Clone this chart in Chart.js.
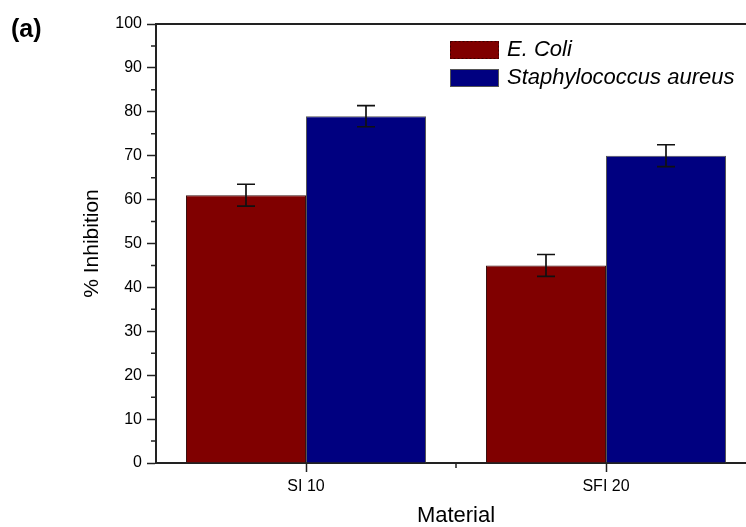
<!DOCTYPE html>
<html>
<head>
<meta charset="utf-8">
<script src="https://cdn.jsdelivr.net/npm/chart.js@4/dist/chart.umd.min.js"></script>
<style>
  html, body { margin: 0; padding: 0; background: #fff; overflow: hidden; }
  #wrap { width: 760px; height: 527px; }
</style>
</head>
<body>
<div id="wrap"><canvas id="myChart" width="760" height="527"></canvas></div>
<script>
// data
const materials = ['SI 10', 'SFI 20'];
const ecoli = [61, 45];
const ecoliErr = [2.5, 2.5];
const staph = [79, 70];
const staphErr = [2.4, 2.5];
const yTicks = [0, 10, 20, 30, 40, 50, 60, 70, 80, 90, 100];

const FONT = '"Liberation Sans", Arial, sans-serif';
const errs = [ecoliErr, staphErr];

// error bars, minor ticks, top frame, legend and panel label
const extras = {
  id: 'extras',
  afterDatasetsDraw(chart) {
    const ctx = chart.ctx;
    const y = chart.scales.y;
    const x = chart.scales.x;
    const area = chart.chartArea;
    ctx.save();

    // error bars
    ctx.strokeStyle = '#111';
    ctx.lineWidth = 1.7;
    chart.data.datasets.forEach((ds, di) => {
      chart.getDatasetMeta(di).data.forEach((bar, i) => {
        const v = ds.data[i], e = errs[di][i];
        const yt = y.getPixelForValue(v + e), yb = y.getPixelForValue(v - e);
        ctx.beginPath();
        ctx.moveTo(bar.x, yt); ctx.lineTo(bar.x, yb);
        ctx.moveTo(bar.x - 9, yt); ctx.lineTo(bar.x + 9, yt);
        ctx.moveTo(bar.x - 9, yb); ctx.lineTo(bar.x + 9, yb);
        ctx.stroke();
      });
    });

    // frame top line
    ctx.strokeStyle = '#222';
    ctx.lineWidth = 2;
    ctx.beginPath();
    ctx.moveTo(area.left, area.top); ctx.lineTo(area.right, area.top);
    ctx.stroke();

    // minor ticks
    ctx.lineWidth = 1.5;
    ctx.beginPath();
    for (let i = 0; i < yTicks.length - 1; i++) {
      const py = y.getPixelForValue(yTicks[i] + 5);
      ctx.moveTo(area.left - 5, py); ctx.lineTo(area.left, py);
    }
    for (let i = 0; i < materials.length - 1; i++) {
      const px = x.getPixelForValue(i + 0.5);
      ctx.moveTo(px, area.bottom); ctx.lineTo(px, area.bottom + 5);
    }
    ctx.stroke();

    // legend
    ctx.font = 'italic 22px ' + FONT;
    ctx.textBaseline = 'middle';
    chart.data.datasets.forEach((ds, di) => {
      const top = 41 + di * 28;
      ctx.fillStyle = ds.backgroundColor;
      ctx.fillRect(450, top, 49, 18);
      ctx.strokeStyle = di === 0 ? '#3a0000' : '#555';
      ctx.lineWidth = 1;
      ctx.setLineDash(di === 0 ? [2, 2] : []);
      ctx.strokeRect(450.5, top + 0.5, 48, 17);
      ctx.setLineDash([]);
      ctx.fillStyle = '#000';
      ctx.fillText(ds.label, 507, top + 9);
    });

    // panel label
    ctx.font = 'bold 25px ' + FONT;
    ctx.textBaseline = 'middle';
    ctx.fillText('(a)', 11, 30);
    ctx.restore();
  }
};

const config = {
  type: 'bar',
  data: {
    labels: materials,
    datasets: [
      { label: 'E. Coli', data: ecoli, backgroundColor: '#800000', borderColor: '#3a1010', borderWidth: 1 },
      { label: 'Staphylococcus aureus', data: staph, backgroundColor: '#000080', borderColor: '#555', borderWidth: 1 }
    ]
  },
  options: {
    responsive: false,
    animation: false,
    layout: { padding: { top: 24, right: 4, bottom: 0, left: 0 } },
    datasets: { bar: { categoryPercentage: 0.8, barPercentage: 1.0 } },
    plugins: { legend: { display: false }, tooltip: { enabled: false } },
    scales: {
      x: {
        offset: true,
        grid: { offset: false, drawOnChartArea: false, tickLength: 9, tickColor: '#222', tickWidth: 1.5 },
        border: { display: true, color: '#222', width: 2 },
        ticks: { color: '#000', padding: 5, font: { family: FONT, size: 16 } },
        title: { display: true, text: 'Material', color: '#000', font: { family: FONT, size: 22, lineHeight: 1 }, padding: 0 },
        afterFit(s) { s.height = 64; }
      },
      y: {
        min: 0,
        max: 100,
        afterBuildTicks(s) { s.ticks = yTicks.map(v => ({ value: v })); },
        grid: { drawOnChartArea: false, tickLength: 9, tickColor: '#222', tickWidth: 1.5 },
        border: { display: true, color: '#222', width: 2 },
        ticks: { color: '#000', padding: 5, font: { family: FONT, size: 16 } },
        title: { display: true, text: '% Inhibition', color: '#000', font: { family: FONT, size: 21, lineHeight: 1.2 }, padding: { top: 80, bottom: 0 } },
        afterFit(s) { s.width = 156; }
      }
    }
  },
  plugins: [extras]
};

const myChart = new Chart(document.getElementById('myChart'), config);
</script>
</body>
</html>
